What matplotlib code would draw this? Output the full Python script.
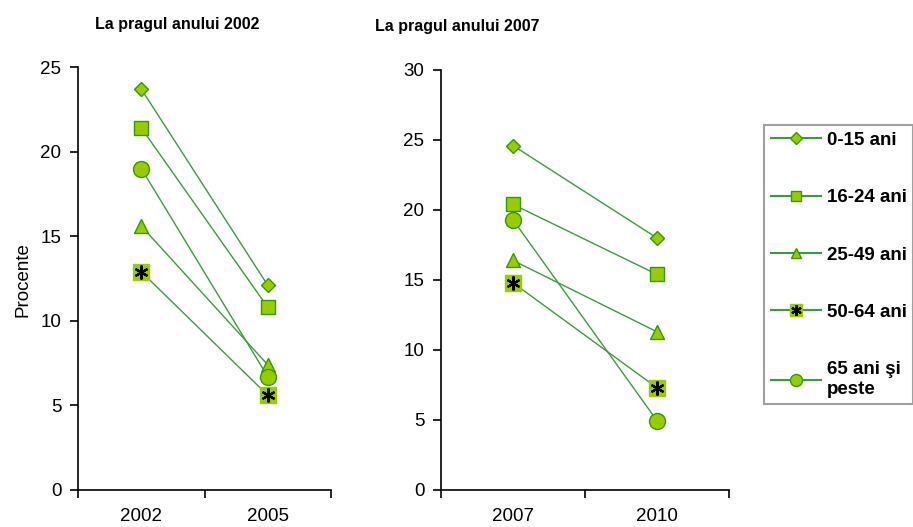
import matplotlib
matplotlib.use("Agg")
import matplotlib.pyplot as plt
from matplotlib.legend_handler import HandlerTuple

# ---- data ----
groups = ["0-15 ani", "16-24 ani", "25-49 ani", "50-64 ani", "65 ani şi\npeste"]
years_a = ["2002", "2005"]
years_b = ["2007", "2010"]
vals_a_0_15 = [23.7, 12.1]
vals_a_16_24 = [21.4, 10.8]
vals_a_25_49 = [15.6, 7.4]
vals_a_50_64 = [12.9, 5.6]
vals_a_65 = [19.0, 6.7]
vals_b_0_15 = [24.6, 18.0]
vals_b_16_24 = [20.4, 15.4]
vals_b_25_49 = [16.4, 11.3]
vals_b_50_64 = [14.8, 7.3]
vals_b_65 = [19.3, 4.95]
titles = ["La pragul anului 2002", "La pragul anului 2007"]

series_a = [vals_a_0_15, vals_a_16_24, vals_a_25_49, vals_a_50_64, vals_a_65]
series_b = [vals_b_0_15, vals_b_16_24, vals_b_25_49, vals_b_50_64, vals_b_65]

line_col = "#3f9a3f"
fill_col = "#99cc00"
edge_col = "#339900"
styles = [
    dict(marker="D", ms=7.5, star=False),
    dict(marker="s", ms=10, star=False),
    dict(marker="^", ms=9.5, star=False),
    dict(marker="s", ms=11.5, star=True),
    dict(marker="o", ms=11.5, star=False),
]

W, H = 913, 527
fig = plt.figure(figsize=(W / 100, H / 100), dpi=100)

SANS = ["Liberation Sans", "DejaVu Sans"]


def make_ax(px_left, px_right, px_top, px_bottom, years, series, ymax):
    ax = fig.add_axes([px_left / W, 1 - px_bottom / H,
                       (px_right - px_left) / W, (px_bottom - px_top) / H])
    x = list(range(len(years)))
    handles = []
    for vals, st in zip(series, styles):
        if st["star"]:
            h1, = ax.plot(x, vals, color=line_col, lw=1.0, marker=st["marker"],
                          ms=st["ms"], mfc=fill_col, mec=fill_col, zorder=3)
            h2, = ax.plot(x, vals, lw=0, marker=(6, 2, 0), ms=10,
                          mec="black", mew=1.6, zorder=4)
            handles.append((h1, h2))
        else:
            h, = ax.plot(x, vals, color=line_col, lw=1.0, marker=st["marker"],
                         ms=st["ms"], mfc=fill_col, mec=edge_col, mew=1.0, zorder=3)
            handles.append(h)
    ax.set_xlim(-0.5, len(years) - 0.5)
    ax.set_ylim(0, ymax)
    ax.set_yticks(range(0, ymax + 1, 5))
    ax.set_xticks([i - 0.5 for i in range(len(years) + 1)])
    ax.set_xticklabels([])
    ax.set_xticks(x, minor=True)
    ax.set_xticklabels(years, minor=True, fontsize=13.5, family=SANS)
    ax.tick_params(axis="x", which="minor", length=0, pad=13)
    ax.tick_params(axis="x", which="major", length=6, width=1.2, direction="out")
    ax.tick_params(axis="y", length=6, width=1.2, direction="out", labelsize=13.5, pad=6)
    for lab in ax.get_yticklabels():
        lab.set_family(SANS)
    for s in ["top", "right"]:
        ax.spines[s].set_visible(False)
    for s in ["left", "bottom"]:
        ax.spines[s].set_linewidth(1.2)
    ax.set_facecolor("none")
    return ax, handles


ax1, handles = make_ax(78, 331, 67, 490, years_a, series_a, 25)
ax2, _ = make_ax(441, 729, 70, 490, years_b, series_b, 30)

fig.text(177 / W, 1 - 25 / H, titles[0], ha="center", va="center", fontsize=11.5,
         family=SANS, weight="bold")
fig.text(457 / W, 1 - 27 / H, titles[1], ha="center", va="center", fontsize=11.5,
         family=SANS, weight="bold")
fig.text(23 / W, 1 - 280 / H, "Procente", rotation=90, ha="center", va="center",
         fontsize=13.5, family=SANS)

leg = fig.legend(handles, groups, loc="upper left", bbox_to_anchor=(764 / W, 1 - 125 / H),
                 prop=dict(family=SANS, weight="bold", size=13.5),
                 handler_map={tuple: HandlerTuple(ndivide=1, pad=0)},
                 frameon=True, fancybox=False, edgecolor="#888888",
                 handlelength=2.7, handletextpad=0.3, labelspacing=2.15,
                 borderpad=0.35, borderaxespad=0, markerscale=0.75)
leg.get_frame().set_linewidth(1.5)
for lh in leg.get_lines():
    lh.set_linewidth(1.5)

fig.savefig("out.png", dpi=100)
